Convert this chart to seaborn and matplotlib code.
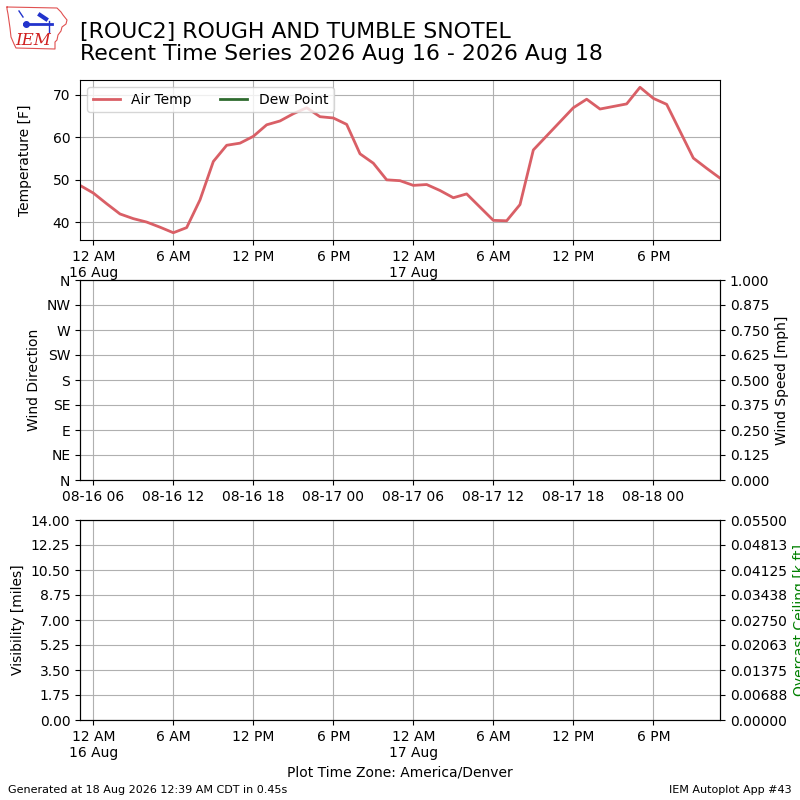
import numpy as np
import pandas as pd
import matplotlib
matplotlib.use("Agg")
import matplotlib.pyplot as plt
import matplotlib.dates as mdates
from matplotlib.ticker import FuncFormatter, FormatStrFormatter, FixedLocator
import seaborn as sns

# ---------------- data ----------------
start_local = "2026-08-15 23:00"
air_temp = [48.7,
            46.9, 44.4, 42.0, 40.9, 40.1, 38.9, 37.6, 38.8, 45.3, 54.3, 58.1, 58.6,
            60.2, 62.9, 63.8, 65.5, 66.9, 64.8, 64.5, 63.0, 56.1, 53.9, 50.0, 49.8,
            48.7, 48.9, 47.5, 45.8, 46.7, 43.6, 40.5, 40.4, 44.2, 57.0, 60.3, 63.6,
            66.9, 68.9, 66.6, 67.2, 67.8, 71.7, 69.1, 67.7, 61.4, 55.1, 52.7, 50.4]
dir_labels = ["N", "NE", "E", "SE", "S", "SW", "W", "NW", "N"]
title_lines = ["[ROUC2] ROUGH AND TUMBLE SNOTEL",
               "Recent Time Series 2026 Aug 16 - 2026 Aug 18"]
footer_left = "Generated at 18 Aug 2026 12:39 AM CDT in 0.45s"
footer_right = "IEM Autoplot App #43"
tz_label = "Plot Time Zone: America/Denver"

times = pd.date_range(start_local, periods=len(air_temp), freq="h")
df = pd.DataFrame({"valid": times, "tmpf": air_temp})
utc_offset = pd.Timedelta(hours=6)

AIR_COLOR = "#d95f66"
DEW_COLOR = "#2f6b2f"

fig = plt.figure(figsize=(8, 8), dpi=100)


def local_fmt(x, pos=None):
    d = mdates.num2date(x)
    if d.hour == 0:
        return "12 AM\n" + d.strftime("%d %b")
    h = d.hour % 12
    if h == 0:
        h = 12
    return f"{h} {'AM' if d.hour < 12 else 'PM'}"


# ---------------- top: temperature ----------------
ax1 = fig.add_axes([0.1, 0.7, 0.8, 0.2])
sns.lineplot(data=df, x="valid", y="tmpf", ax=ax1, color=AIR_COLOR, lw=2,
             label="Air Temp")
ax1.plot([], [], color=DEW_COLOR, lw=2, label="Dew Point")
ax1.set_xlim(times[0], times[-1])
ax1.xaxis.set_major_locator(mdates.HourLocator(byhour=[0, 6, 12, 18]))
ax1.xaxis.set_major_formatter(FuncFormatter(local_fmt))
ax1.set_xlabel("")
ax1.set_ylabel("Temperature [F]", labelpad=15)
ax1.grid(True)
ax1.legend(loc="upper left", ncol=2)

# ---------------- middle: wind ----------------
ax2 = fig.add_axes([0.1, 0.4, 0.8, 0.25])
ax2.set_xlim(times[0] + utc_offset, times[-1] + utc_offset)
ax2.xaxis.set_major_locator(mdates.HourLocator(byhour=[0, 6, 12, 18]))
ax2.xaxis.set_major_formatter(mdates.DateFormatter("%m-%d %H"))
ax2.set_ylim(0, 360)
ax2.yaxis.set_major_locator(FixedLocator(np.arange(0, 361, 45)))
ax2.set_yticklabels(dir_labels)
ax2.set_ylabel("Wind Direction")
ax2.grid(True)
ax2b = ax2.twinx()
ax2b.set_ylim(0, 1)
ax2b.set_yticks(np.linspace(0, 1, 9))
ax2b.yaxis.set_major_formatter(FormatStrFormatter("%.3f"))
ax2b.set_ylabel("Wind Speed [mph]")

# ---------------- bottom: visibility / ceiling ----------------
ax3 = fig.add_axes([0.1, 0.1, 0.8, 0.25])
ax3.set_xlim(times[0], times[-1])
ax3.xaxis.set_major_locator(mdates.HourLocator(byhour=[0, 6, 12, 18]))
ax3.xaxis.set_major_formatter(FuncFormatter(local_fmt))
ax3.set_ylim(0, 14)
ax3.set_yticks(np.linspace(0, 14, 9))
ax3.yaxis.set_major_formatter(FormatStrFormatter("%.2f"))
ax3.set_ylabel("Visibility [miles]")
ax3.set_xlabel(tz_label)
ax3.grid(True)
ax3b = ax3.twinx()
ax3b.set_ylim(0, 0.055)
ax3b.set_yticks(np.linspace(0, 0.055, 9))
ax3b.yaxis.set_major_formatter(FormatStrFormatter("%.5f"))
ax3b.set_ylabel("Overcast Ceiling [k ft]", color="g")

# ---------------- titles / footer ----------------
fig.text(0.1, 0.9725, "\n".join(title_lines), fontsize=15.8, va="top", ha="left",
         linespacing=1.15)
fig.text(0.01, 0.006, footer_left, fontsize=8, ha="left", va="bottom")
fig.text(0.99, 0.006, footer_right, fontsize=8, ha="right", va="bottom")

# ---------------- logo ----------------
lax = fig.add_axes([0.0, 0.935, 0.09, 0.065])
lax.set_xlim(0, 72)
lax.set_ylim(52, 0)
lax.axis("off")
iowa_x = [7, 57, 59, 61, 63, 67, 66, 62, 61, 58, 57, 55, 55, 16, 14, 11, 10, 9, 8, 7, 7]
iowa_y = [7, 8, 10, 12, 15, 20, 24, 27, 31, 35, 40, 42, 49, 48, 44, 37, 28, 21, 14, 9, 7]
lax.plot(iowa_x, iowa_y, color="#e05050", lw=0.8)
lax.plot([24, 52], [24, 24], color="#2233cc", lw=2)
lax.plot([26], [24], "o", color="#2233cc", ms=4)
lax.plot([40, 46], [15, 19], color="#2233cc", lw=3)
lax.plot([49, 49], [21, 32], color="#2233cc", lw=1)
lax.plot([19, 23], [11, 17], color="#2233cc", lw=1)
lax.text(15, 45, "IEM", color="#d02020", fontsize=12, fontstyle="italic",
         family="DejaVu Serif", va="baseline")

fig.savefig("out.png", dpi=100)
